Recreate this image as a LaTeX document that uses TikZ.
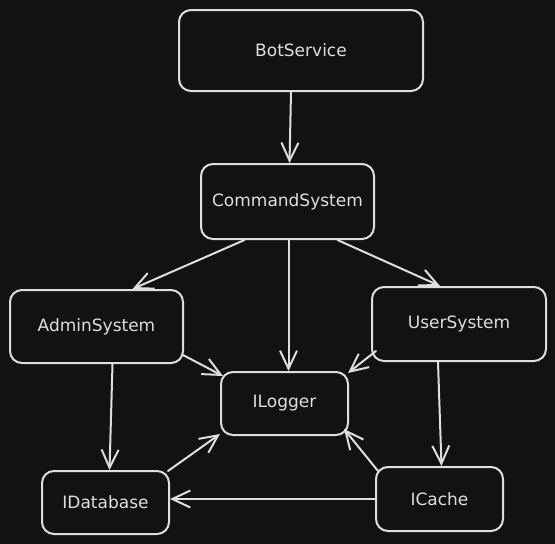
\documentclass[tikz,border=0pt]{standalone}
\usepackage{fontspec}
\setmainfont{DejaVu Sans}
\usetikzlibrary{arrows.meta}
\definecolor{bgc}{HTML}{121212}
\definecolor{inkc}{HTML}{DEDEDE}
\begin{document}
\begin{tikzpicture}[x=1pt, y=-1pt,
  block/.style={rectangle, rounded corners=12pt, draw=inkc, line width=2pt, fill=bgc, text=inkc, font=\fontsize{17}{20}\selectfont},
  link/.style={draw=inkc, line width=2pt, line cap=round, -{Straight Barb[length=18pt, width=17pt, line width=2pt]}}]

  \useasboundingbox[fill=bgc] (0,0) rectangle (555,544);

  \node[block, minimum width=244pt, minimum height=81pt] at (301,50.5) (bs) {BotService};
  \node[block, minimum width=173pt, minimum height=75pt] at (287.5,201.5) (cs) {CommandSystem};
  \node[block, minimum width=173pt, minimum height=73pt] at (96.5,326.5) (as) {AdminSystem};
  \node[block, minimum width=174pt, minimum height=74pt] at (459,324) (us) {UserSystem};
  \node[block, minimum width=127pt, minimum height=63pt] at (284.5,403.5) (lg) {ILogger};
  \node[block, minimum width=127pt, minimum height=63pt] at (105.5,502.5) (db) {IDatabase};
  \node[block, minimum width=127pt, minimum height=64pt] at (439.5,499) (ca) {ICache};

  \draw[link] ([xshift=-10pt]bs.south) -- ([xshift=2pt]cs.north);
  \draw[link] ([xshift=-43pt]cs.south) -- ([xshift=36pt]as.north);
  \draw[link] ([xshift=1pt]cs.south) -- ([xshift=4pt]lg.north);
  \draw[link] ([xshift=50pt]cs.south) -- ([xshift=-19pt]us.north);
  \draw[link] ([xshift=-2pt,yshift=-28pt]as.east) -- ([xshift=3pt,yshift=-5pt]lg.north west);
  \draw[link] ([xshift=5pt,yshift=-27pt]us.west) -- ([xshift=-1pt,yshift=-2pt]lg.north east);
  \draw[link] ([xshift=16pt]as.south) -- ([xshift=4pt]db.north);
  \draw[link] ([xshift=-21pt]us.south) -- ([xshift=2pt]ca.north);
  \draw[link] ([xshift=-2pt,yshift=-1pt]db.north east) -- ([yshift=2pt]lg.south west);
  \draw[link] ([xshift=3pt,yshift=-5pt]ca.north west) -- ([xshift=-5pt,yshift=7pt]lg.south east);
  \draw[link] (ca.west) -- (ca.west -| db.east);

\end{tikzpicture}
\end{document}
